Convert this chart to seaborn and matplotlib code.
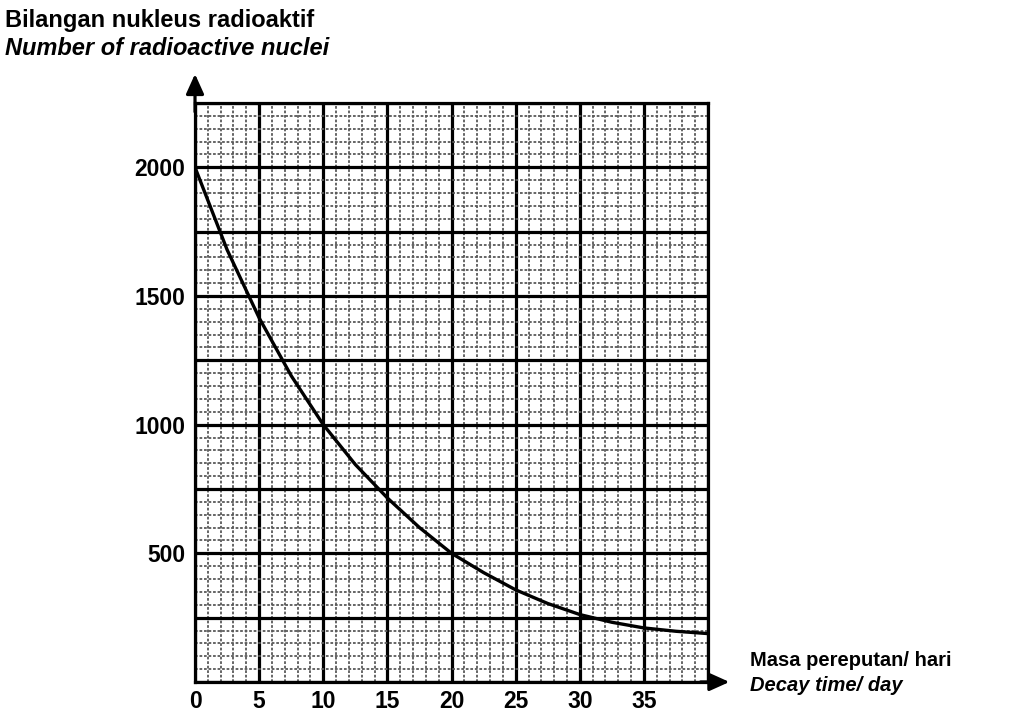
import numpy as np
import pandas as pd
import matplotlib
matplotlib.use("Agg")
import matplotlib.pyplot as plt
from matplotlib.ticker import MultipleLocator, FuncFormatter
import seaborn as sns

# decay readings
decay_time = [0, 2.5, 5, 7.5, 10, 12.5, 15, 17.5, 20, 22.5, 25, 27.5, 30, 32.5, 35, 37.5, 40]
nuclei = [2000, 1680, 1415, 1190, 1000, 845, 715, 600, 500, 425, 358, 305, 262, 232, 210, 197, 188]

x_labels = ["0", "5", "10", "15", "20", "25", "30", "35"]
y_labels = ["500", "1000", "1500", "2000"]

df = pd.DataFrame({"t": decay_time, "N": nuclei})

sns.set_theme(style="white")
plt.rcParams["font.family"] = ["Liberation Sans", "DejaVu Sans"]
plt.rcParams["text.color"] = "black"
plt.rcParams["xtick.color"] = "black"
plt.rcParams["ytick.color"] = "black"

fig = plt.figure(figsize=(10.12, 7.19), dpi=100)
ax = fig.add_axes([0.1927, 0.0515, 0.507, 0.8052])

ax.set_xlim(0, 40)
ax.set_ylim(0, 2250)

ax.xaxis.set_major_locator(MultipleLocator(5))
ax.xaxis.set_minor_locator(MultipleLocator(1))
ax.yaxis.set_major_locator(MultipleLocator(250))
ax.yaxis.set_minor_locator(MultipleLocator(50))

ax.grid(which="minor", color="0.35", linestyle=(0, (1.5, 1.0)), linewidth=1.3)
ax.grid(which="major", color="black", linestyle="-", linewidth=2.3)
ax.set_axisbelow(True)

sns.lineplot(data=df, x="t", y="N", ax=ax, color="black", linewidth=2.4, zorder=5)

ax.xaxis.set_major_formatter(FuncFormatter(
    lambda v, p: str(int(v)) if str(int(v)) in x_labels else ""))
ax.yaxis.set_major_formatter(FuncFormatter(
    lambda v, p: str(int(v)) if str(int(v)) in y_labels else ""))

ax.tick_params(which="both", length=0)
ax.tick_params(axis="x", pad=6, labelsize=16.5, labelcolor="black")
ax.tick_params(axis="y", pad=7, labelsize=16.5, labelcolor="black")
for lab in ax.get_xticklabels() + ax.get_yticklabels():
    lab.set_fontweight("bold")

for s in ax.spines.values():
    s.set_color("black")
    s.set_linewidth(2.3)

ax.set_xlabel("")
ax.set_ylabel("")

# axis arrows
ax.annotate("", xy=(0, 1.055), xytext=(0, 0.98), xycoords="axes fraction",
            arrowprops=dict(arrowstyle="-|>,head_width=0.45,head_length=1.0",
                            color="black", lw=2.3), annotation_clip=False)
ax.annotate("", xy=(1.047, 0), xytext=(0.98, 0), xycoords="axes fraction",
            arrowprops=dict(arrowstyle="-|>,head_width=0.45,head_length=1.0",
                            color="black", lw=2.3), annotation_clip=False)

fig.text(0.005, 0.972, "Bilangan nukleus radioaktif", fontsize=17,
         fontweight="bold", va="center", ha="left", color="black")
fig.text(0.005, 0.932, "Number of radioactive nuclei", fontsize=17,
         fontweight="bold", style="italic", va="center", ha="left", color="black")
fig.text(0.741, 0.082, "Masa pereputan/ hari", fontsize=14.5,
         fontweight="bold", va="center", ha="left", color="black")
fig.text(0.741, 0.046, "Decay time/ day", fontsize=14.5,
         fontweight="bold", style="italic", va="center", ha="left", color="black")

fig.savefig("out.png", dpi=100)
